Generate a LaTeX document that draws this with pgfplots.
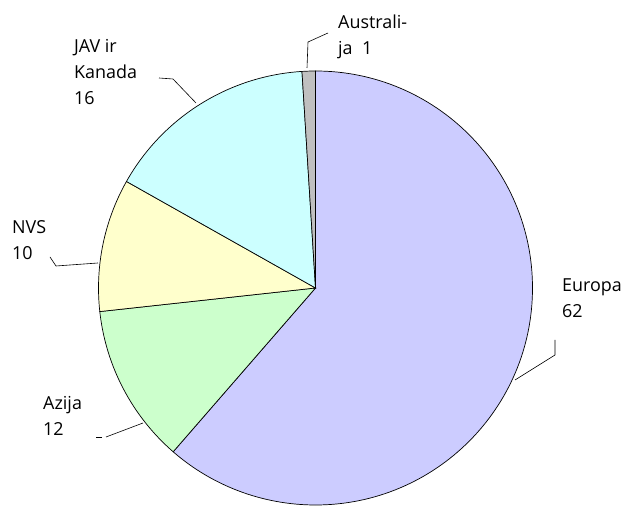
\documentclass[border=0pt]{standalone}
\usepackage{pgfplots}
\pgfplotsset{compat=1.18}
\usepackage{pgfplotstable}
\usepackage{fontspec}
\setmainfont{Open Sans}
\definecolor{cEur}{HTML}{CCCCFF}
\definecolor{cAzi}{HTML}{CCFFCC}
\definecolor{cNvs}{HTML}{FFFFCC}
\definecolor{cJav}{HTML}{CCFFFF}
\definecolor{cAus}{HTML}{C0C0C0}
\tikzset{lbl/.style={font=\fontsize{18}{26.5}\selectfont,align=left,anchor=base west,inner sep=0pt}}
\pgfplotstableread{
label value
Europa 62
Azija 12
NVS 10
JAV 16
Australija 1
}\piedata
\begin{document}
\begin{tikzpicture}
\pgfplotstablegetelem{0}{value}\of\piedata \pgfmathsetmacro{\vA}{\pgfplotsretval}
\pgfplotstablegetelem{1}{value}\of\piedata \pgfmathsetmacro{\vB}{\pgfplotsretval}
\pgfplotstablegetelem{2}{value}\of\piedata \pgfmathsetmacro{\vC}{\pgfplotsretval}
\pgfplotstablegetelem{3}{value}\of\piedata \pgfmathsetmacro{\vD}{\pgfplotsretval}
\pgfplotstablegetelem{4}{value}\of\piedata \pgfmathsetmacro{\vE}{\pgfplotsretval}
\pgfmathsetmacro{\tot}{\vA+\vB+\vC+\vD+\vE}
\pgfmathsetmacro{\aA}{90}
\pgfmathsetmacro{\aB}{\aA-\vA/\tot*360}
\pgfmathsetmacro{\aC}{\aB-\vB/\tot*360}
\pgfmathsetmacro{\aD}{\aC-\vC/\tot*360}
\pgfmathsetmacro{\aE}{\aD-\vD/\tot*360}
\pgfmathsetmacro{\aF}{\aE-\vE/\tot*360}
\def\cx{315.5}\def\cy{218}\def\R{217bp}
\begin{axis}[x=1bp,y=1bp,xmin=0,xmax=629,ymin=0,ymax=506,hide axis,clip=false]
\path (axis cs:0,0) rectangle (axis cs:629,506);
\filldraw[fill=cEur,draw=black,line width=0.7pt] (axis cs:\cx,\cy) -- ++(\aA:\R) arc[start angle=\aA,end angle=\aB,radius=\R] -- cycle;
\filldraw[fill=cAzi,draw=black,line width=0.7pt] (axis cs:\cx,\cy) -- ++(\aB:\R) arc[start angle=\aB,end angle=\aC,radius=\R] -- cycle;
\filldraw[fill=cNvs,draw=black,line width=0.7pt] (axis cs:\cx,\cy) -- ++(\aC:\R) arc[start angle=\aC,end angle=\aD,radius=\R] -- cycle;
\filldraw[fill=cJav,draw=black,line width=0.7pt] (axis cs:\cx,\cy) -- ++(\aD:\R) arc[start angle=\aD,end angle=\aE,radius=\R] -- cycle;
\filldraw[fill=cAus,draw=black,line width=0.7pt] (axis cs:\cx,\cy) -- ++(\aE:\R) arc[start angle=\aE,end angle=\aF,radius=\R] -- cycle;
% leader lines
\draw[line width=0.6pt] (axis cs:307,438) -- (axis cs:308,464) -- (axis cs:328,473);
\draw[line width=0.6pt] (axis cs:196,403) -- (axis cs:173,427) -- (axis cs:159,428);
\draw[line width=0.6pt] (axis cs:98,243) -- (axis cs:56,240) -- (axis cs:50,249);
\draw[line width=0.6pt] (axis cs:143,83) -- (axis cs:106,69);
\draw[line width=0.6pt] (axis cs:102,69) -- (axis cs:96,69);
\draw[line width=0.6pt] (axis cs:515,126) -- (axis cs:555,151) -- (axis cs:555,166);
% labels (anchored at baseline of last line)
\node[lbl] at (axis cs:338,451) {Australi-\\ja\ \ 1};
\node[lbl] at (axis cs:74,401) {JAV ir\\Kanada\\16};
\node[lbl] at (axis cs:12,246) {NVS\\10};
\node[lbl] at (axis cs:43,70) {Azija\\12};
\node[lbl] at (axis cs:562,188) {Europa\\62};
\end{axis}
\end{tikzpicture}
\end{document}
